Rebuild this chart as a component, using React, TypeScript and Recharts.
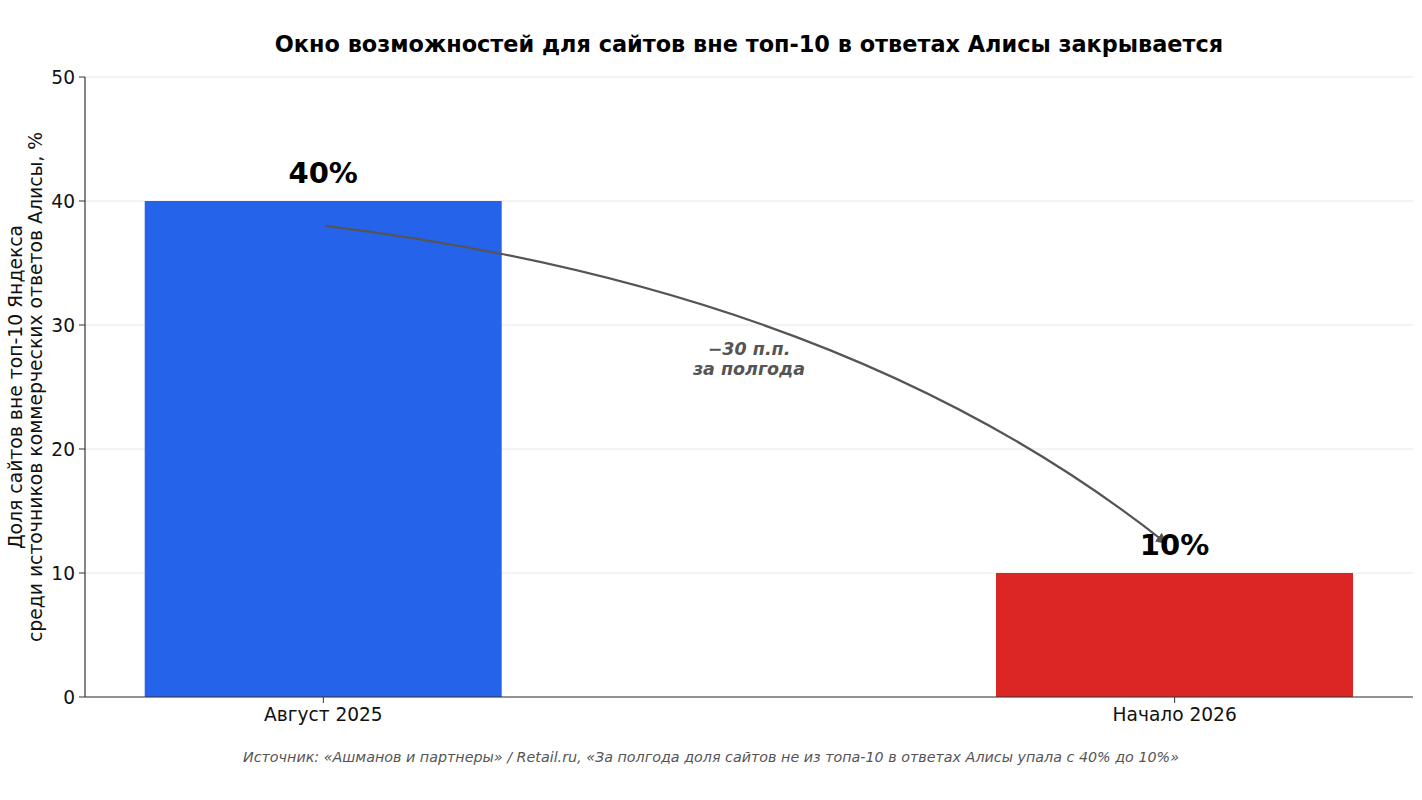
import React from "react";
import {
  BarChart,
  Bar,
  Cell,
  XAxis,
  YAxis,
  CartesianGrid,
  LabelList,
  ReferenceLine,
  ReferenceDot,
} from "recharts";

const FONT = '"DejaVu Sans", Verdana, sans-serif';

const categories = ["Август 2025", "Начало 2026"];
const positions = [0, 1];
const shares = [40, 10];
const barColors = ["#2563EB", "#DC2626"];
const yTicks = [0, 10, 20, 30, 40, 50];

const arrowStart = { x: 0.002, y: 38 };
const arrowEnd = { x: 0.99, y: 12.4 };
const noteAt = { x: 0.5, y: 27.3 };
const noteLines = ["\u221230 п.п.", "за полгода"];

const title =
  "Окно возможностей для сайтов вне топ-10 в ответах Алисы закрывается";
const yLabelLines = [
  "Доля сайтов вне топ-10 Яндекса",
  "среди источников коммерческих ответов Алисы, %",
];
const source =
  "Источник: «Ашманов и партнеры» / Retail.ru, «За полгода доля сайтов не из топа-10 в ответах Алисы упала с 40% до 10%»";

const data = categories.map((name, i) => ({
  name,
  pos: positions[i],
  share: shares[i],
}));

// curved arrow between two data points (quadratic bezier)
const ArrowShape = (props: any) => {
  const { x1, y1, x2, y2 } = props;
  if (x1 == null) return null;
  const cx = x1 + 0.62 * (x2 - x1);
  const cy = y1 + 0.2 * (y2 - y1);
  return (
    <g>
      <defs>
        <marker
          id="arrowHead"
          viewBox="0 0 10 10"
          refX="9"
          refY="5"
          markerWidth="5"
          markerHeight="5"
          orient="auto"
        >
          <path d="M0,0 L10,5 L0,10 z" fill="#555" />
        </marker>
      </defs>
      <path
        d={`M${x1},${y1} Q${cx},${cy} ${x2},${y2}`}
        fill="none"
        stroke="#555"
        strokeWidth={2.2}
        markerEnd="url(#arrowHead)"
      />
    </g>
  );
};

const NoteShape = (props: any) => {
  const { cx, cy } = props;
  if (cx == null) return null;
  return (
    <text
      x={cx}
      textAnchor="middle"
      fill="#555"
      fontFamily={FONT}
      fontSize={17.5}
      fontWeight="bold"
      fontStyle="italic"
    >
      <tspan x={cx} y={cy - 3}>
        {noteLines[0]}
      </tspan>
      <tspan x={cx} y={cy + 17}>
        {noteLines[1]}
      </tspan>
    </text>
  );
};

const BarValue = (props: any) => {
  const { x, y, width, value } = props;
  return (
    <text
      x={x + width / 2}
      y={y - 18}
      textAnchor="middle"
      fill="#000"
      fontFamily={FONT}
      fontSize={29}
      fontWeight="bold"
    >
      {value}%
    </text>
  );
};

const YLabel = () => (
  <g fontFamily={FONT} fontSize={18.8} fill="#111">
    <text transform="translate(22,387) rotate(-90)" textAnchor="middle">
      {yLabelLines[0]}
    </text>
    <text transform="translate(42,387) rotate(-90)" textAnchor="middle">
      {yLabelLines[1]}
    </text>
  </g>
);

export default function App() {
  return (
    <div
      style={{
        position: "absolute",
        left: 0,
        top: 0,
        width: 1422,
        height: 800,
        background: "#fff",
        fontFamily: FONT,
      }}
    >
      <div
        style={{
          position: "absolute",
          left: 85,
          width: 1328,
          top: 30,
          textAlign: "center",
          fontSize: 22.4,
          fontWeight: "bold",
          color: "#000",
          lineHeight: "28px",
        }}
      >
        {title}
      </div>
      <BarChart
        width={1422}
        height={800}
        data={data}
        margin={{ top: 77, right: 9, bottom: 73, left: 0 }}
      >
        <CartesianGrid vertical={false} stroke="#e8e8e8" strokeWidth={1} />
        <XAxis
          type="number"
          dataKey="pos"
          domain={[-0.28, 1.28]}
          ticks={positions}
          tickFormatter={(v: number) => categories[positions.indexOf(v)]}
          height={30}
          axisLine={{ stroke: "#333", strokeWidth: 1.2 }}
          tickLine={{ stroke: "#333" }}
          tickSize={6}
          tickMargin={5}
          tick={{ fontSize: 18.6, fill: "#111", fontFamily: FONT }}
        />
        <YAxis
          type="number"
          domain={[0, 50]}
          ticks={yTicks}
          width={85}
          axisLine={{ stroke: "#333", strokeWidth: 1.2 }}
          tickLine={{ stroke: "#333" }}
          tickSize={6}
          tickMargin={4}
          tick={{ fontSize: 18.6, fill: "#111", fontFamily: FONT }}
          label={<YLabel />}
        />
        <Bar dataKey="share" barSize={357} isAnimationActive={false}>
          {data.map((d, i) => (
            <Cell key={d.name} fill={barColors[i]} />
          ))}
          <LabelList dataKey="share" content={<BarValue />} />
        </Bar>
        <ReferenceLine segment={[arrowStart, arrowEnd]} shape={<ArrowShape />} />
        <ReferenceDot x={noteAt.x} y={noteAt.y} r={0} shape={<NoteShape />} />
      </BarChart>
      <div
        style={{
          position: "absolute",
          left: 0,
          width: 1422,
          top: 748,
          textAlign: "center",
          fontSize: 14.3,
          fontStyle: "italic",
          color: "#555",
          lineHeight: "18px",
        }}
      >
        {source}
      </div>
    </div>
  );
}
